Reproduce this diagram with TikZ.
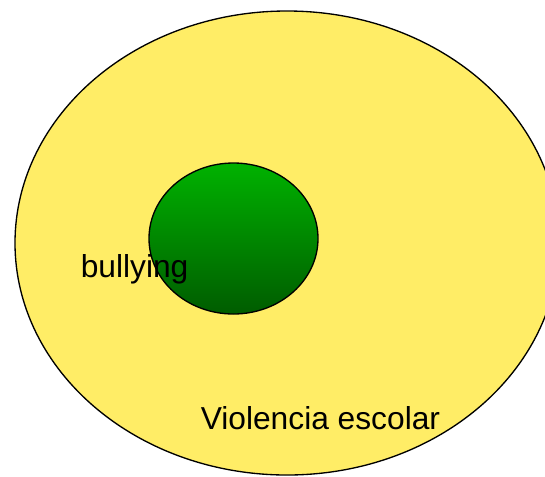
\documentclass[tikz,border=0pt]{standalone}
\usepackage{fontspec}
\setmainfont{Liberation Sans}
\usetikzlibrary{shapes.geometric}
\definecolor{outeryellow}{RGB}{255,237,102}
\definecolor{greentop}{RGB}{0,178,0}
\definecolor{greenbot}{RGB}{0,92,0}
\tikzset{
  blob/.style={ellipse, draw=black, line width=1pt, inner sep=0pt},
  lbl/.style={font=\fontsize{23.8}{27}\selectfont, inner sep=0pt, anchor=base west, text=black}
}
\begin{document}
\begin{tikzpicture}[x=0.75pt,y=-0.75pt]
\useasboundingbox (0,0) rectangle (545,476);
\clip (0,0) rectangle (545,476);
\node[blob, fill=outeryellow, minimum width=408pt, minimum height=348pt] (outer) at (287,243) {};
\node[blob, top color=greentop, bottom color=greenbot, minimum width=126.75pt, minimum height=113.25pt] (inner) at (233.5,238.5) {};
\node[lbl] (bul) at (80.5,277.5) {bullying};
\node[lbl] (vio) at (200.5,429) {Violencia escolar};
\end{tikzpicture}
\end{document}
